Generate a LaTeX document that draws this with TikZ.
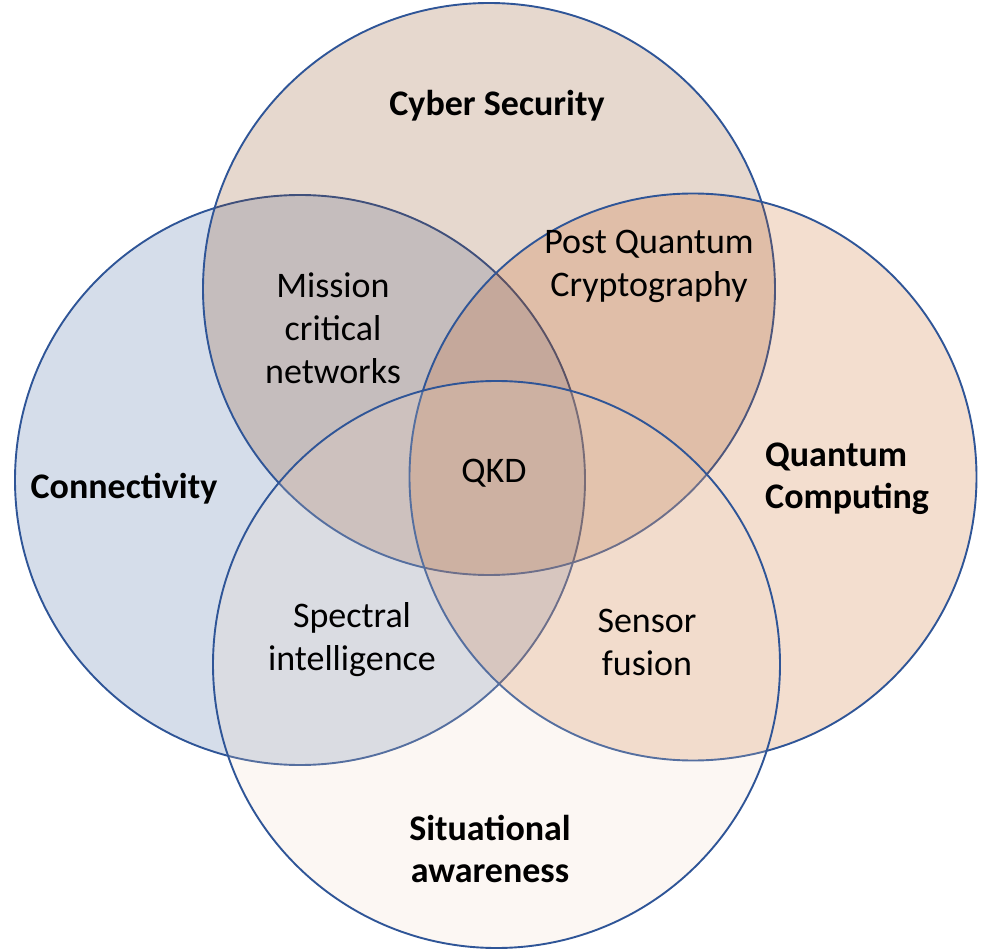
\documentclass[tikz,border=0pt]{standalone}
\usepackage{fontspec}
\setmainfont{Carlito}
\definecolor{edge}{HTML}{2F5597}
\definecolor{cconn}{HTML}{2F5597}
\definecolor{ccyber}{HTML}{843C0C}
\definecolor{cqc}{HTML}{C55A11}
\definecolor{csa}{HTML}{F0D7C3}
\begin{document}
\begin{tikzpicture}[x=1pt,y=-1pt,
  venn/.style={circle,draw=edge,line width=1.9pt,fill opacity=0.2,draw opacity=1,inner sep=0pt,outer sep=0pt},
  lab/.style={font=\fontsize{36}{43}\selectfont,align=center,text=black,inner sep=0pt},
  blab/.style={lab,font=\fontsize{36}{42}\selectfont\bfseries}]
\useasboundingbox (0,0) rectangle (986,949);
\node[venn,fill=cconn,minimum size=570pt] (conn) at (300,480) {};
\node[venn,fill=ccyber,minimum size=572pt] (cyber) at (489,289) {};
\node[venn,fill=cqc,minimum size=567pt] (qc) at (693,477) {};
\node[venn,fill=csa,minimum size=567pt] (sa) at (496.5,664.5) {};
\node[blab] (tcyber) at (497,106) {Cyber Security};
\node[blab] (tconn) at (124,489) {Connectivity};
\node[blab,align=left,anchor=west] (tqc) at (765,479) {Quantum\\Computing};
\node[blab] (tsa) at (490,849) {Situational\\awareness};
\node[lab] (tmc) at (333,328) {Mission\\critical\\networks};
\node[lab] (tpq) at (649,266) {Post Quantum\\Cryptography};
\node[lab] (tqkd) at (494,473) {QKD};
\node[lab] (tsi) at (352,640) {Spectral\\intelligence};
\node[lab] (tsf) at (647,642) {Sensor\\fusion};
\end{tikzpicture}
\end{document}
